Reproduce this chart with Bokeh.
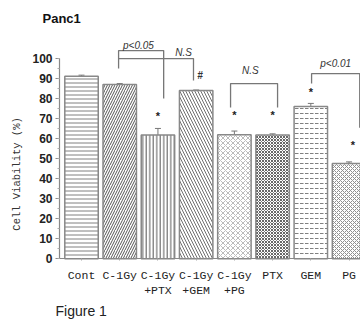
from bokeh.plotting import figure
from bokeh.models import (Range1d, FixedTicker, Whisker, ColumnDataSource,
                          Title, TeeHead)
from bokeh.embed import file_html
from bokeh.resources import INLINE
from bokeh.core.properties import value

# Panc1 cell viability after each treatment (mean, error)
groups = ["Cont", "C-1Gy", "C-1Gy\n+PTX", "C-1Gy\n+GEM", "C-1Gy\n+PG", "PTX", "GEM", "PG"]
viability = [91.1, 87.1, 61.8, 84.0, 62.0, 61.8, 76.0, 47.6]
error = [0.6, 0.4, 3.3, 0.3, 1.8, 0.6, 1.6, 0.8]
y_ticks = [0, 10, 20, 30, 40, 50, 60, 70, 80, 90, 100]

# significance marks: group index and height of the mark
star_idx = [2, 4, 5, 6, 7.1]
star_y = [71.5, 72.0, 72.0, 83.5, 57.0]
hash_idx = [3.1]
hash_y = [91.5]

x = list(range(len(groups)))
src = ColumnDataSource(dict(
    x=x, top=viability, upper=[v + e for v, e in zip(viability, error)],
    pattern=["horizontal_line", "right_diagonal_line", "vertical_line",
             "left_diagonal_line", "diagonal_cross", "diagonal_cross",
             "horizontal_dash", "diagonal_cross"],
    hcolor=["#808080", "#555555", "#555555", "#707070", "#bbbbbb", "#666666",
            "#808080", "#909090"],
    hscale=[4.0, 5.0, 3.5, 6.0, 5.0, 3.0, 5.0, 4.0],
))

# the frame runs below zero so the category axis can sit at y = 0
p = figure(width=360, height=320, output_backend="svg", toolbar_location=None,
           x_range=Range1d(-0.576, 7.30), y_range=Range1d(-19.8, 114),
           min_border_left=59, min_border_right=0, min_border_top=30,
           min_border_bottom=0)
p.outline_line_color = None
p.xgrid.visible = False
p.ygrid.visible = False
p.background_fill_color = "white"

p.vbar(x="x", top="top", width=0.875, bottom=0, source=src,
       fill_color="white", line_color="#888888", line_width=1.5,
       hatch_pattern="pattern", hatch_color="hcolor", hatch_scale="hscale",
       hatch_weight=1.0)

p.add_layout(Whisker(source=src, base="x", upper="upper", lower="top",
                     dimension="height", line_color="#777777", line_width=1,
                     upper_head=TeeHead(size=6, line_color="#777777", line_width=1),
                     lower_head=None))

# comparison brackets
br_xs = [[0.97, 0.97, 2.15, 2.15], [0.97, 2.93, 2.93],
         [3.90, 3.90, 5.13, 5.13], [6.02, 6.02, 7.28, 7.28]]
br_ys = [[95.0, 104.0, 104.0, 80.0], [100.0, 100.0, 89.0],
         [75.5, 87.5, 87.5, 75.5], [87.5, 92.5, 92.5, 65.5]]
p.multi_line(xs=br_xs, ys=br_ys, line_color="#777777", line_width=1.3)

p.text(x=[1.49, 2.67, 4.42, 6.65], y=[106.5, 103.0, 94.0, 97.5],
       text=["p<0.05", "N.S", "N.S", "p<0.01"],
       text_font=value("Liberation Sans"), text_font_size="10px",
       text_font_style="italic", text_color="#333333",
       text_align="center", text_baseline="middle")

p.text(x=star_idx, y=star_y, text=["*"] * len(star_idx),
       text_font=value("Liberation Sans"), text_font_size="11px",
       text_font_style="bold", text_color="#222222",
       text_align="center", text_baseline="middle")
p.text(x=hash_idx, y=hash_y, text=["#"] * len(hash_idx),
       text_font=value("Liberation Sans"), text_font_size="10px",
       text_font_style="bold italic", text_color="#333333",
       text_align="center", text_baseline="middle")

# x axis: group names, pinned to y = 0
xa = p.xaxis[0]
xa.fixed_location = 0
xa.ticker = FixedTicker(ticks=x)
xa.major_label_overrides = {i: g for i, g in zip(x, groups)}
xa.major_label_text_font = "Liberation Mono"
xa.major_label_text_font_size = "11.5px"
xa.major_label_text_color = "#222222"
xa.major_label_standoff = 8
xa.major_tick_out = 2
xa.major_tick_in = 0
xa.major_tick_line_color = "#aaaaaa"
xa.minor_tick_line_color = None
xa.axis_line_color = "#888888"
xa.axis_line_width = 1.2

# y axis
ya = p.yaxis[0]
ya.ticker = FixedTicker(ticks=y_ticks, minor_ticks=list(range(0, 101, 5)))
ya.bounds = (0, 100)
ya.axis_label = "Cell Viability (%)\u00a0\u00a0\u00a0"
ya.axis_label_text_font = "Liberation Mono"
ya.axis_label_text_font_size = "10.5px"
ya.axis_label_text_font_style = "normal"
ya.axis_label_text_color = "#333333"
ya.axis_label_standoff = 6
ya.major_label_text_font = "Liberation Sans"
ya.major_label_text_font_size = "12px"
ya.major_label_text_font_style = "bold"
ya.major_label_text_color = "#222222"
ya.major_label_standoff = 3
ya.major_tick_out = 4
ya.major_tick_in = 0
ya.minor_tick_out = 2
ya.minor_tick_in = 0
ya.axis_line_color = "#888888"
ya.axis_line_width = 1.2
ya.major_tick_line_color = "#888888"
ya.minor_tick_line_color = "#aaaaaa"

p.title.text = "Panc1"
p.title.align = "left"
p.title.offset = -17
p.title.text_font = "Liberation Sans"
p.title.text_font_size = "13px"
p.title.text_font_style = "bold"
p.title.text_color = "#111111"

# figure caption at the bottom
p.add_layout(Title(text="Figure 1", align="left", offset=-4, standoff=4,
                   text_font="Liberation Sans", text_font_size="14px",
                   text_font_style="normal", text_color="#222222"), "below")

open("out.html", "w").write(file_html(p, INLINE))
